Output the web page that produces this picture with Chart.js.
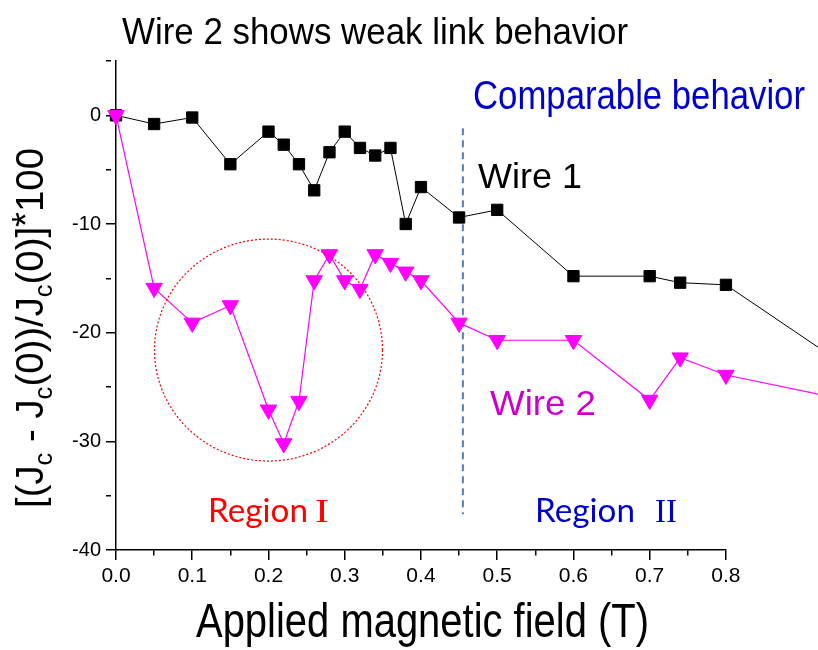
<!DOCTYPE html>
<html>
<head>
<meta charset="utf-8">
<script src="https://cdn.jsdelivr.net/npm/chart.js@4.4.0/dist/chart.umd.min.js"></script>
<style>
  html, body { margin: 0; padding: 0; background: #fff; }
  #wrap { width: 818px; height: 650px; }
</style>
</head>
<body>
<div id="wrap"><canvas id="chart-jc"></canvas></div>
<script>
// applied field (T) - last point lies past the 0.8 T axis end, only the line toward it shows
const field = [0, 0.05, 0.10, 0.15, 0.20, 0.22, 0.24, 0.26, 0.28, 0.30, 0.32, 0.34, 0.36, 0.38, 0.40, 0.45, 0.50, 0.60, 0.70, 0.74, 0.80, 1.00];
const wire1 = [0, -0.8, -0.2, -4.5, -1.5, -2.7, -4.5, -6.9, -3.4, -1.5, -3.0, -3.7, -3.0, -10.0, -6.6, -9.4, -8.7, -14.8, -14.8, -15.4, -15.6, -25.1];
const wire2 = [0, -15.9, -19.1, -17.5, -27.1, -30.2, -26.3, -15.2, -12.8, -15.2, -16.0, -12.8, -13.6, -14.4, -15.2, -19.1, -20.7, -20.7, -26.2, -22.3, -23.9, -26.8];

// region boundary (dashed) and the circled region I
const boundaryX = [0.455, 0.455];
const boundaryY = [-1.2, -36.7];
const circleCenter = [0.2, -21.6];

const xTicks = { min: 0, max: 0.8001, step: 0.05 };
const yTicks = { min: -40, max: 5, step: 5 };

const toPoints = (xs, ys) => xs.map((x, i) => ({ x, y: ys[i] }));
const xMajor = (v) => Math.round(v * 100) % 10 === 0;
const yMajor = (v) => v % 10 === 0 && v <= 0;

function fitText(ctx, text, x, y, font, color, width) {
  ctx.save();
  ctx.font = font;
  ctx.fillStyle = color;
  ctx.textBaseline = 'alphabetic';
  const w = ctx.measureText(text).width;
  ctx.translate(x, y);
  ctx.scale(width / w, 1);
  ctx.fillText(text, 0, 0);
  ctx.restore();
}

// y title with subscripts, rotated
function drawYTitle(ctx) {
  const big = '39px "Liberation Sans", Arial, sans-serif';
  const small = '26px "Liberation Sans", Arial, sans-serif';
  const parts = [
    ['[(J', big, 0], ['c', small, 9], [' - J', big, 0], ['c', small, 9],
    ['(0))/J', big, 0], ['c', small, 9], ['(0)]', big, 0], ['*', big, -4], ['100', big, 0]
  ];
  ctx.save();
  let total = 0;
  parts.forEach((p) => { ctx.font = p[1]; total += ctx.measureText(p[0]).width; });
  ctx.translate(43, 328);
  ctx.rotate(-Math.PI / 2);
  ctx.scale(360 / total, 1);
  ctx.fillStyle = '#000';
  ctx.textBaseline = 'alphabetic';
  let x = -total / 2;
  parts.forEach((p) => {
    ctx.font = p[1];
    ctx.fillText(p[0], x, p[2]);
    x += ctx.measureText(p[0]).width;
  });
  ctx.restore();
}

const annotations = {
  id: 'annotations',
  afterDatasetsDraw(chart) {
    const ctx = chart.ctx;
    const xs = chart.scales.x, ys = chart.scales.y;

    // dotted circle round region I
    ctx.save();
    ctx.beginPath();
    ctx.ellipse(xs.getPixelForValue(circleCenter[0]), ys.getPixelForValue(circleCenter[1]), 114, 111, 0, 0, Math.PI * 2);
    ctx.setLineDash([2, 2]);
    ctx.lineWidth = 1.2;
    ctx.strokeStyle = '#ff0000';
    ctx.stroke();
    ctx.restore();

    const sans = '"Liberation Sans", Arial, sans-serif';
    fitText(ctx, 'Wire 2 shows weak link behavior', 122, 44, '36px ' + sans, '#000', 506);
    fitText(ctx, 'Comparable behavior', 473, 109, '40px ' + sans, '#0000cc', 332);
    fitText(ctx, 'Wire 1', 478, 188, '35px ' + sans, '#000', 104);
    fitText(ctx, 'Wire 2', 490, 415, '35px ' + sans, '#cc00cc', 106);
    fitText(ctx, 'Region', 208, 522, '32px Lato, "Open Sans", sans-serif', '#ff0000', 100);
    fitText(ctx, 'I', 315, 522, '34px "Liberation Serif", serif', '#ff0000', 14);
    fitText(ctx, 'Region', 535, 522, '32px Lato, "Open Sans", sans-serif', '#0000cc', 100);
    fitText(ctx, 'II', 655, 522, '34px "Liberation Serif", serif', '#0000cc', 22);
    fitText(ctx, 'Applied magnetic field (T)', 196, 637, '48px ' + sans, '#000', 453);
    drawYTitle(ctx);
  }
};

const ctx = document.getElementById('chart-jc').getContext('2d');
new Chart(ctx, {
  type: 'line',
  data: {
    datasets: [
      {
        label: 'Wire 2', data: toPoints(field, wire2), order: 0, clip: false,
        borderColor: '#ff00ff', backgroundColor: '#ff00ff', borderWidth: 1.2,
        pointStyle: 'triangle', pointRotation: 180, pointRadius: 9.5,
        pointBorderColor: '#ff00ff', pointBorderWidth: 1
      },
      {
        label: 'Wire 1', data: toPoints(field, wire1), order: 1, clip: false,
        borderColor: '#000', backgroundColor: '#000', borderWidth: 1,
        pointStyle: 'rect', pointRadius: 8, pointBorderColor: '#000', pointBorderWidth: 1
      },
      {
        label: 'boundary', data: toPoints(boundaryX, boundaryY), order: 2, clip: false,
        borderColor: '#4f81bd', borderWidth: 2, borderDash: [7, 5], pointRadius: 0
      }
    ]
  },
  options: {
    responsive: true,
    maintainAspectRatio: false,
    animation: false,
    layout: { padding: { top: 61, right: 92, left: 0, bottom: 0 } },
    plugins: { legend: { display: false }, tooltip: { enabled: false } },
    scales: {
      x: {
        type: 'linear', min: xTicks.min, max: xTicks.max,
        afterFit: (s) => { s.height = 100; },
        border: { color: '#000', width: 1.5 },
        grid: {
          drawOnChartArea: false, drawTicks: true, tickLength: 10, color: '#000', lineWidth: 1.5,
          tickBorderDash: (c) => (c.tick && xMajor(c.tick.value) ? [] : [5, 40])
        },
        ticks: {
          stepSize: xTicks.step, includeBounds: false, color: '#000', padding: 4, maxRotation: 0, autoSkip: false,
          font: { family: '"Liberation Sans", Arial', size: 21 },
          callback: (v) => (xMajor(v) ? v.toFixed(1) : '')
        }
      },
      y: {
        min: yTicks.min, max: yTicks.max,
        afterFit: (s) => { s.width = 116; },
        border: { color: '#000', width: 1.5 },
        grid: {
          drawOnChartArea: false, drawTicks: true, tickLength: 10, color: '#000', lineWidth: 1.5,
          tickBorderDash: (c) => (c.tick && yMajor(c.tick.value) ? [] : [5, 40])
        },
        ticks: {
          stepSize: yTicks.step, color: '#000', padding: 5, autoSkip: false,
          font: { family: '"Liberation Sans", Arial', size: 20 },
          callback: (v) => (yMajor(v) ? String(v) : '')
        }
      }
    }
  },
  plugins: [annotations]
});
</script>
</body>
</html>
